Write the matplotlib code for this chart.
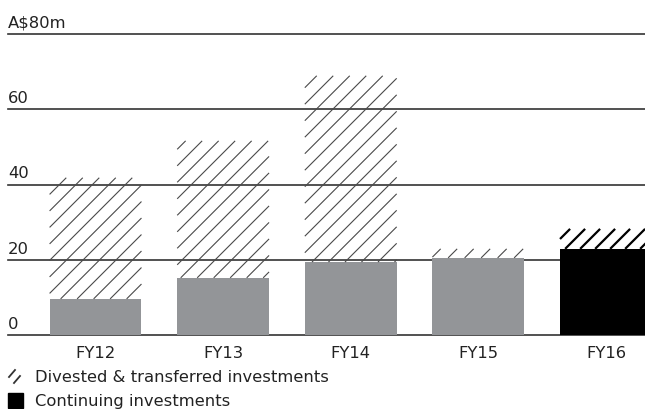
import matplotlib
matplotlib.use("Agg")
import matplotlib.pyplot as plt
import numpy as np
from matplotlib.patches import Rectangle
from matplotlib.lines import Line2D

categories = ["FY12", "FY13", "FY14", "FY15", "FY16"]
continuing = [9.6, 15.2, 19.4, 20.5, 22.9]
totals = [41.8, 51.6, 68.9, 22.9, 28.2]
yticks = [0, 20, 40, 60, 80]
ytick_labels = ["0", "20", "40", "60", "A$80m"]
legend_labels = ["Divested & transferred investments", "Continuing investments"]

FONT = ["DejaVu Sans"]
FS = 11.8
W, H = 645, 410
fig = plt.figure(figsize=(W / 100, H / 100), dpi=100)
ax = fig.add_axes([8 / W, (H - 336) / H, 637 / W, (336 - 35) / H])
ax.set_xlim(-0.686, 4.306)
ax.set_ylim(0, 80)
ax.axis("off")

for v, lab in zip(yticks, ytick_labels):
    ax.axhline(v, color="#333333", lw=1.2, zorder=1, clip_on=False)
    ax.annotate(lab, xy=(0, v), xycoords=("axes fraction", "data"),
                xytext=(0, 3), textcoords="offset points", va="bottom", ha="left",
                fontsize=FS, color="#222222", family=FONT)


def hatch_rect(x0d, y0d, x1d, y1d, spacing, color, lw):
    """Diagonal 45-degree hatch drawn inside a data-space rectangle."""
    T = ax.transData
    (xa, ya), (xb, yb) = T.transform([(x0d, y0d), (x1d, y1d)])
    inv = T.inverted()
    cmin, cmax = ya - xb, yb - xa
    c = np.floor(cmin / spacing) * spacing
    while c <= cmax:
        lo = max(xa, ya - c)
        hi = min(xb, yb - c)
        if hi - lo > 0.5:
            pts = inv.transform([(lo, lo + c), (hi, hi + c)])
            ax.plot(pts[:, 0], pts[:, 1], color=color, lw=lw, zorder=2,
                    solid_capstyle="butt")
        c += spacing


width = 0.72
for i, (c, t) in enumerate(zip(continuing, totals)):
    last = i == len(categories) - 1
    solid = "#000000" if last else "#939598"
    hcol = "#000000" if last else "#4a4a4a"
    ax.bar(i, c, width=width, color=solid, zorder=2, linewidth=0)
    if last:
        hatch_rect(i - width / 2, c, i + width / 2, t, 15.0, hcol, 1.6)
    else:
        hatch_rect(i - width / 2, c, i + width / 2, t, 16.5, hcol, 0.8)
    ax.annotate(categories[i], xy=(i, 0), xycoords="data", xytext=(0, -7),
                textcoords="offset points", ha="center", va="top",
                fontsize=FS, color="#222222", family=FONT, annotation_clip=False)

# legend
def px(x, y):
    return x / W, (H - y) / H

x0, y0 = px(9, 378)
x1, y1 = px(15, 371)
fig.add_artist(Line2D([x0, x1], [y0, y1], color="#333333", lw=1.3, transform=fig.transFigure))
x0, y0 = px(14, 384)
x1, y1 = px(20, 377)
fig.add_artist(Line2D([x0, x1], [y0, y1], color="#333333", lw=1.3, transform=fig.transFigure))
rx, ry = px(8, 409)
fig.add_artist(Rectangle((rx, ry), 15 / W, 15 / H, color="#000000", transform=fig.transFigure))

tx, ty = px(35, 378)
fig.text(tx, ty, legend_labels[0], fontsize=FS, color="#222222", va="center", ha="left", family=FONT)
tx, ty = px(35, 402)
fig.text(tx, ty, legend_labels[1], fontsize=FS, color="#222222", va="center", ha="left", family=FONT)

fig.savefig("out.png", dpi=100)
